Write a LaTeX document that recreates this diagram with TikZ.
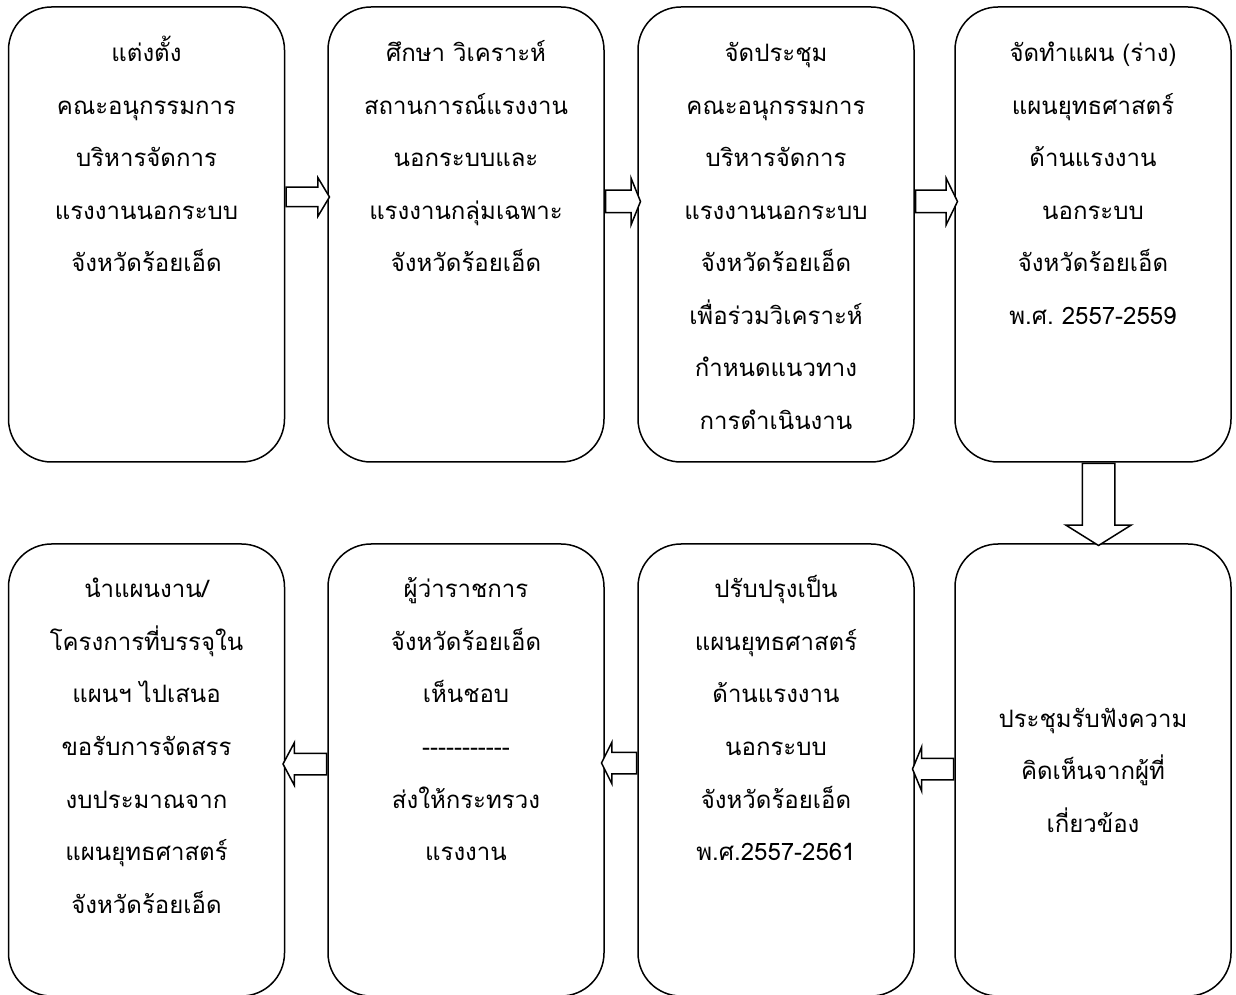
\documentclass[tikz,border=0pt]{standalone}
\usepackage{fontspec}
\newfontfamily\thaifont[Script=Thai,Ligatures=TeXOff]{Loma}
\usepackage{tikz}
\usetikzlibrary{shapes.arrows,calc}
\usetikzlibrary{positioning}
\frenchspacing
\tikzset{
    box/.style={
           rectangle,
           rounded corners=43pt,
           draw=black, line width=1.5pt,
           text width=262pt,
           inner xsep=7pt,
           inner ysep=0pt,
           align=center,
           font=\thaifont\fontsize{24}{52.5}\selectfont,
           },
    toprow/.style={text height=55pt, text depth=400pt},
    lowrow/.style={text height=54pt, text depth=398pt},
    blk/.style={
           single arrow,
           draw=black, line width=1.5pt,
           fill=white,
           inner xsep=0pt,
           minimum width=0pt,
           single arrow head indent=0pt,}
}
\begin{document}
\begin{tikzpicture}[x=1pt,y=1pt]
\useasboundingbox (0,0) rectangle (1236,994);
% TOP ROW
% Position of appointment (APPOINT)
\node[box, toprow] (APPOINT) at (146.5,759.5)
{แต่งตั้ง\\
คณะอนุกรรมการ\\
บริหารจัดการ\\
แรงงานนอกระบบ\\
จังหวัดร้อยเอ็ด};
% Position of study (STUDY)
\node[box, toprow,
right of = APPOINT,
node distance = 319.5pt] (STUDY)
{ศึกษา วิเคราะห์\\
สถานการณ์แรงงาน\\
นอกระบบและ\\
แรงงานกลุ่มเฉพาะ\\
จังหวัดร้อยเอ็ด};
% Position of meeting (MEET)
\node[box, toprow,
right of = STUDY,
node distance = 310pt] (MEET)
{จัดประชุม\\
คณะอนุกรรมการ\\
บริหารจัดการ\\
แรงงานนอกระบบ\\
จังหวัดร้อยเอ็ด\\
เพื่อร่วมวิเคราะห์\\
กำหนดแนวทาง\\
การดำเนินงาน};
% Position of draft plan (DRAFT)
\node[box, toprow,
right of = MEET,
node distance = 317pt] (DRAFT)
{จัดทำแผน (ร่าง)\\
แผนยุทธศาสตร์\\
ด้านแรงงาน\\
นอกระบบ\\
จังหวัดร้อยเอ็ด\\
พ.ศ. 2557-2559};
% BOTTOM ROW
% Position of hearing (HEAR)
\node[box,
minimum height = 452pt,
below of = DRAFT,
node distance = 535.5pt] (HEAR)
{ประชุมรับฟังความ\\
คิดเห็นจากผู้ที่\\
เกี่ยวข้อง};
% Position of revised plan (REVISE)
\node[box, lowrow,
left of = HEAR,
node distance = 317pt] (REVISE)
{ปรับปรุงเป็น\\
แผนยุทธศาสตร์\\
ด้านแรงงาน\\
นอกระบบ\\
จังหวัดร้อยเอ็ด\\
พ.ศ.2557-2561};
% Position of approval (APPROVE)
\node[box, lowrow,
left of = REVISE,
node distance = 310pt] (APPROVE)
{ผู้ว่าราชการ\\
จังหวัดร้อยเอ็ด\\
เห็นชอบ\\
-----------\\
ส่งให้กระทรวง\\
แรงงาน};
% Position of budget request (BUDGET)
\node[box, lowrow,
left of = APPROVE,
node distance = 319.5pt] (BUDGET)
{นำแผนงาน/\\
โครงการที่บรรจุใน\\
แผนฯ ไปเสนอ\\
ขอรับการจัดสรร\\
งบประมาณจาก\\
แผนยุทธศาสตร์\\
จังหวัดร้อยเอ็ด};
% Draw block arrows
\node[blk, anchor=tail, minimum height=43.5pt, inner ysep=9pt,
single arrow head extend=9.5pt, single arrow tip angle=118] (A1) at ([yshift=37.5pt]APPOINT.east) {};
\node[blk, anchor=tail, minimum height=35pt, inner ysep=10.5pt,
single arrow head extend=12pt, single arrow tip angle=136] (A2) at ([yshift=33pt]STUDY.east) {};
\node[blk, anchor=tail, minimum height=42pt, inner ysep=10.5pt,
single arrow head extend=12pt, single arrow tip angle=128] (A3) at ([yshift=33pt]MEET.east) {};
\node[blk, anchor=tail, shape border rotate=270, minimum height=82pt, inner xsep=15.5pt, inner ysep=0pt,
single arrow head extend=16.5pt, single arrow tip angle=116] (A4) at ([xshift=5.5pt]DRAFT.south) {};
\node[blk, anchor=tail, shape border rotate=180, minimum height=41pt, inner ysep=10pt,
single arrow head extend=11.5pt, single arrow tip angle=135] (A5) at ([yshift=1pt]HEAR.west) {};
\node[blk, anchor=tail, shape border rotate=180, minimum height=35pt, inner ysep=10pt,
single arrow head extend=10pt, single arrow tip angle=127] (A6) at ([yshift=7pt]REVISE.west) {};
\node[blk, anchor=tail, shape border rotate=180, minimum height=43.5pt, inner ysep=10pt,
single arrow head extend=10.5pt, single arrow tip angle=124] (A7) at ([yshift=6pt]APPROVE.west) {};
\end{tikzpicture}
\end{document}
